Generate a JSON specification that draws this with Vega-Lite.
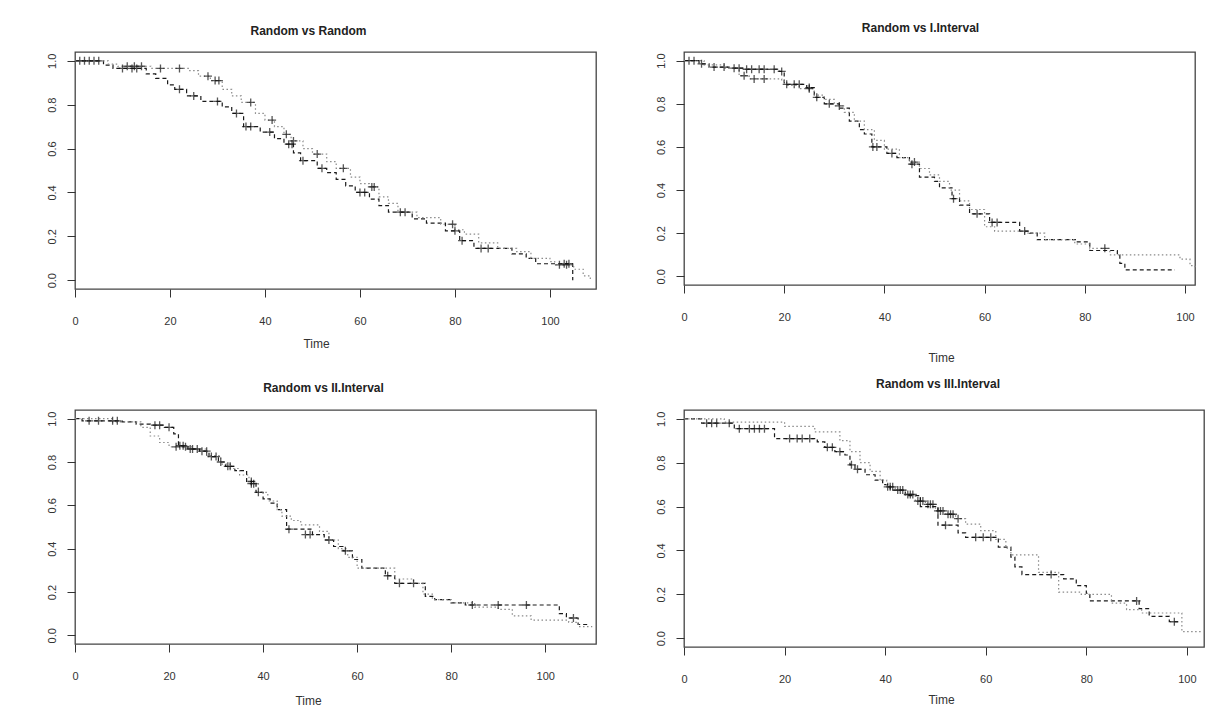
{
"$schema": "https://vega.github.io/schema/vega-lite/v6.json",
"background": "white",
"padding": {"left": 45, "top": 21, "right": 20, "bottom": 10},
"config": {
 "font": "Liberation Sans",
 "view": {"stroke": "#444", "strokeWidth": 1.3},
 "axis": {"grid": false, "domain": false, "tickColor": "#333", "tickSize": 8, "labelFont": "Liberation Sans", "labelFontSize": 11, "labelColor": "#333", "titleFont": "Liberation Sans", "titleFontSize": 12, "titleFontWeight": "normal", "titleColor": "#333"},
 "axisX": {"labelPadding": 18, "labelFlush": false},
 "axisY": {"labelAngle": -90, "labelAlign": "center", "labelBaseline": "bottom", "labelPadding": 10, "format": ".1f", "title": null, "labelFlush": false},
 "title": {"fontSize": 12, "fontWeight": "bold", "color": "#222", "font": "Liberation Sans"}
},
"datasets": {
"curves": [
{"panel":"p1","group":"A","time":0,"surv":1},{"panel":"p1","group":"A","time":6,"surv":0.98},{"panel":"p1","group":"A","time":8,"surv":0.965},{"panel":"p1","group":"A","time":15,"surv":0.94},{"panel":"p1","group":"A","time":17,"surv":0.92},{"panel":"p1","group":"A","time":19.5,"surv":0.89},{"panel":"p1","group":"A","time":21,"surv":0.87},{"panel":"p1","group":"A","time":23.5,"surv":0.84},{"panel":"p1","group":"A","time":26.5,"surv":0.815},{"panel":"p1","group":"A","time":31,"surv":0.79},{"panel":"p1","group":"A","time":33,"surv":0.76},{"panel":"p1","group":"A","time":35.5,"surv":0.7},{"panel":"p1","group":"A","time":39,"surv":0.675},{"panel":"p1","group":"A","time":42,"surv":0.645},{"panel":"p1","group":"A","time":44,"surv":0.62},{"panel":"p1","group":"A","time":46,"surv":0.58},{"panel":"p1","group":"A","time":47.5,"surv":0.545},{"panel":"p1","group":"A","time":51,"surv":0.51},{"panel":"p1","group":"A","time":53,"surv":0.49},{"panel":"p1","group":"A","time":55,"surv":0.46},{"panel":"p1","group":"A","time":57,"surv":0.43},{"panel":"p1","group":"A","time":59,"surv":0.4},{"panel":"p1","group":"A","time":62,"surv":0.37},{"panel":"p1","group":"A","time":64,"surv":0.34},{"panel":"p1","group":"A","time":66,"surv":0.31},{"panel":"p1","group":"A","time":71,"surv":0.28},{"panel":"p1","group":"A","time":74,"surv":0.26},{"panel":"p1","group":"A","time":78,"surv":0.225},{"panel":"p1","group":"A","time":81,"surv":0.18},{"panel":"p1","group":"A","time":84,"surv":0.145},{"panel":"p1","group":"A","time":92,"surv":0.12},{"panel":"p1","group":"A","time":95,"surv":0.1},{"panel":"p1","group":"A","time":97,"surv":0.075},{"panel":"p1","group":"A","time":104.8,"surv":0},
{"panel":"p1","group":"B","time":0,"surv":1},{"panel":"p1","group":"B","time":7,"surv":0.985},{"panel":"p1","group":"B","time":9,"surv":0.975},{"panel":"p1","group":"B","time":16,"surv":0.965},{"panel":"p1","group":"B","time":24,"surv":0.955},{"panel":"p1","group":"B","time":26,"surv":0.93},{"panel":"p1","group":"B","time":28.5,"surv":0.91},{"panel":"p1","group":"B","time":31,"surv":0.87},{"panel":"p1","group":"B","time":33,"surv":0.84},{"panel":"p1","group":"B","time":35,"surv":0.81},{"panel":"p1","group":"B","time":38,"surv":0.76},{"panel":"p1","group":"B","time":40,"surv":0.73},{"panel":"p1","group":"B","time":42,"surv":0.7},{"panel":"p1","group":"B","time":44,"surv":0.665},{"panel":"p1","group":"B","time":45.5,"surv":0.635},{"panel":"p1","group":"B","time":48,"surv":0.6},{"panel":"p1","group":"B","time":50,"surv":0.575},{"panel":"p1","group":"B","time":53,"surv":0.54},{"panel":"p1","group":"B","time":55,"surv":0.51},{"panel":"p1","group":"B","time":58,"surv":0.47},{"panel":"p1","group":"B","time":60,"surv":0.44},{"panel":"p1","group":"B","time":62,"surv":0.425},{"panel":"p1","group":"B","time":64,"surv":0.38},{"panel":"p1","group":"B","time":66,"surv":0.35},{"panel":"p1","group":"B","time":68,"surv":0.31},{"panel":"p1","group":"B","time":72,"surv":0.285},{"panel":"p1","group":"B","time":77,"surv":0.255},{"panel":"p1","group":"B","time":80,"surv":0.23},{"panel":"p1","group":"B","time":82,"surv":0.21},{"panel":"p1","group":"B","time":85,"surv":0.17},{"panel":"p1","group":"B","time":89,"surv":0.145},{"panel":"p1","group":"B","time":93,"surv":0.13},{"panel":"p1","group":"B","time":96,"surv":0.1},{"panel":"p1","group":"B","time":100,"surv":0.085},{"panel":"p1","group":"B","time":101,"surv":0.07},{"panel":"p1","group":"B","time":105,"surv":0.05},{"panel":"p1","group":"B","time":107,"surv":0.02},{"panel":"p1","group":"B","time":108.5,"surv":0},
{"panel":"p2","group":"A","time":0,"surv":1},{"panel":"p2","group":"A","time":3,"surv":0.985},{"panel":"p2","group":"A","time":5,"surv":0.97},{"panel":"p2","group":"A","time":9,"surv":0.965},{"panel":"p2","group":"A","time":12,"surv":0.96},{"panel":"p2","group":"A","time":19,"surv":0.95},{"panel":"p2","group":"A","time":20,"surv":0.89},{"panel":"p2","group":"A","time":24.5,"surv":0.875},{"panel":"p2","group":"A","time":26,"surv":0.83},{"panel":"p2","group":"A","time":28,"surv":0.8},{"panel":"p2","group":"A","time":31,"surv":0.78},{"panel":"p2","group":"A","time":33,"surv":0.72},{"panel":"p2","group":"A","time":35,"surv":0.68},{"panel":"p2","group":"A","time":36,"surv":0.66},{"panel":"p2","group":"A","time":37.5,"surv":0.6},{"panel":"p2","group":"A","time":40.5,"surv":0.57},{"panel":"p2","group":"A","time":42.5,"surv":0.55},{"panel":"p2","group":"A","time":45,"surv":0.52},{"panel":"p2","group":"A","time":47,"surv":0.46},{"panel":"p2","group":"A","time":50,"surv":0.44},{"panel":"p2","group":"A","time":51,"surv":0.41},{"panel":"p2","group":"A","time":53.5,"surv":0.36},{"panel":"p2","group":"A","time":55,"surv":0.33},{"panel":"p2","group":"A","time":57,"surv":0.29},{"panel":"p2","group":"A","time":61,"surv":0.25},{"panel":"p2","group":"A","time":67,"surv":0.21},{"panel":"p2","group":"A","time":69,"surv":0.2},{"panel":"p2","group":"A","time":70.5,"surv":0.17},{"panel":"p2","group":"A","time":78.5,"surv":0.16},{"panel":"p2","group":"A","time":81,"surv":0.12},{"panel":"p2","group":"A","time":86.5,"surv":0.1},{"panel":"p2","group":"A","time":87,"surv":0.06},{"panel":"p2","group":"A","time":88,"surv":0.03},{"panel":"p2","group":"A","time":98,"surv":0.03},
{"panel":"p2","group":"B","time":0,"surv":1},{"panel":"p2","group":"B","time":4,"surv":0.98},{"panel":"p2","group":"B","time":8,"surv":0.965},{"panel":"p2","group":"B","time":11,"surv":0.93},{"panel":"p2","group":"B","time":13,"surv":0.915},{"panel":"p2","group":"B","time":19.5,"surv":0.905},{"panel":"p2","group":"B","time":20.5,"surv":0.885},{"panel":"p2","group":"B","time":23,"surv":0.87},{"panel":"p2","group":"B","time":26,"surv":0.84},{"panel":"p2","group":"B","time":28,"surv":0.82},{"panel":"p2","group":"B","time":30,"surv":0.79},{"panel":"p2","group":"B","time":32,"surv":0.76},{"panel":"p2","group":"B","time":34,"surv":0.72},{"panel":"p2","group":"B","time":36,"surv":0.68},{"panel":"p2","group":"B","time":38,"surv":0.63},{"panel":"p2","group":"B","time":40,"surv":0.59},{"panel":"p2","group":"B","time":43,"surv":0.55},{"panel":"p2","group":"B","time":45,"surv":0.53},{"panel":"p2","group":"B","time":47,"surv":0.5},{"panel":"p2","group":"B","time":49,"surv":0.47},{"panel":"p2","group":"B","time":51,"surv":0.44},{"panel":"p2","group":"B","time":53,"surv":0.4},{"panel":"p2","group":"B","time":55,"surv":0.35},{"panel":"p2","group":"B","time":57,"surv":0.31},{"panel":"p2","group":"B","time":60,"surv":0.23},{"panel":"p2","group":"B","time":62,"surv":0.21},{"panel":"p2","group":"B","time":68,"surv":0.2},{"panel":"p2","group":"B","time":72,"surv":0.17},{"panel":"p2","group":"B","time":78,"surv":0.15},{"panel":"p2","group":"B","time":81,"surv":0.13},{"panel":"p2","group":"B","time":85,"surv":0.1},{"panel":"p2","group":"B","time":99,"surv":0.08},{"panel":"p2","group":"B","time":101,"surv":0.05},{"panel":"p2","group":"B","time":102,"surv":0.04},
{"panel":"p3","group":"A","time":0,"surv":1},{"panel":"p3","group":"A","time":1.5,"surv":0.99},{"panel":"p3","group":"A","time":10,"surv":0.985},{"panel":"p3","group":"A","time":13,"surv":0.975},{"panel":"p3","group":"A","time":16,"surv":0.97},{"panel":"p3","group":"A","time":19,"surv":0.96},{"panel":"p3","group":"A","time":21,"surv":0.93},{"panel":"p3","group":"A","time":22,"surv":0.875},{"panel":"p3","group":"A","time":24,"surv":0.86},{"panel":"p3","group":"A","time":26.5,"surv":0.85},{"panel":"p3","group":"A","time":28.5,"surv":0.825},{"panel":"p3","group":"A","time":30.5,"surv":0.8},{"panel":"p3","group":"A","time":32,"surv":0.78},{"panel":"p3","group":"A","time":34,"surv":0.76},{"panel":"p3","group":"A","time":36.5,"surv":0.71},{"panel":"p3","group":"A","time":38.5,"surv":0.66},{"panel":"p3","group":"A","time":40,"surv":0.63},{"panel":"p3","group":"A","time":41.5,"surv":0.61},{"panel":"p3","group":"A","time":43,"surv":0.58},{"panel":"p3","group":"A","time":45,"surv":0.49},{"panel":"p3","group":"A","time":50.5,"surv":0.465},{"panel":"p3","group":"A","time":53,"surv":0.44},{"panel":"p3","group":"A","time":55,"surv":0.41},{"panel":"p3","group":"A","time":57,"surv":0.39},{"panel":"p3","group":"A","time":59,"surv":0.35},{"panel":"p3","group":"A","time":61,"surv":0.31},{"panel":"p3","group":"A","time":66,"surv":0.275},{"panel":"p3","group":"A","time":68,"surv":0.24},{"panel":"p3","group":"A","time":74.5,"surv":0.18},{"panel":"p3","group":"A","time":76.5,"surv":0.165},{"panel":"p3","group":"A","time":80,"surv":0.15},{"panel":"p3","group":"A","time":83,"surv":0.14},{"panel":"p3","group":"A","time":103,"surv":0.1},{"panel":"p3","group":"A","time":104.5,"surv":0.08},{"panel":"p3","group":"A","time":107,"surv":0.05},{"panel":"p3","group":"A","time":109,"surv":0.05},
{"panel":"p3","group":"B","time":0,"surv":1},{"panel":"p3","group":"B","time":8,"surv":0.985},{"panel":"p3","group":"B","time":14,"surv":0.96},{"panel":"p3","group":"B","time":16,"surv":0.92},{"panel":"p3","group":"B","time":18,"surv":0.89},{"panel":"p3","group":"B","time":20,"surv":0.87},{"panel":"p3","group":"B","time":25,"surv":0.86},{"panel":"p3","group":"B","time":28,"surv":0.83},{"panel":"p3","group":"B","time":31,"surv":0.79},{"panel":"p3","group":"B","time":33,"surv":0.77},{"panel":"p3","group":"B","time":35,"surv":0.74},{"panel":"p3","group":"B","time":37,"surv":0.7},{"panel":"p3","group":"B","time":39,"surv":0.66},{"panel":"p3","group":"B","time":41,"surv":0.62},{"panel":"p3","group":"B","time":43,"surv":0.58},{"panel":"p3","group":"B","time":44,"surv":0.55},{"panel":"p3","group":"B","time":46,"surv":0.53},{"panel":"p3","group":"B","time":48,"surv":0.51},{"panel":"p3","group":"B","time":52,"surv":0.48},{"panel":"p3","group":"B","time":54,"surv":0.44},{"panel":"p3","group":"B","time":56,"surv":0.4},{"panel":"p3","group":"B","time":58,"surv":0.36},{"panel":"p3","group":"B","time":60,"surv":0.31},{"panel":"p3","group":"B","time":68,"surv":0.26},{"panel":"p3","group":"B","time":72,"surv":0.24},{"panel":"p3","group":"B","time":74,"surv":0.19},{"panel":"p3","group":"B","time":76,"surv":0.165},{"panel":"p3","group":"B","time":80,"surv":0.15},{"panel":"p3","group":"B","time":85,"surv":0.13},{"panel":"p3","group":"B","time":90,"surv":0.12},{"panel":"p3","group":"B","time":93,"surv":0.09},{"panel":"p3","group":"B","time":97,"surv":0.07},{"panel":"p3","group":"B","time":105,"surv":0.06},{"panel":"p3","group":"B","time":107,"surv":0.04},{"panel":"p3","group":"B","time":110,"surv":0.04},
{"panel":"p4","group":"A","time":0,"surv":1},{"panel":"p4","group":"A","time":3.5,"surv":0.98},{"panel":"p4","group":"A","time":10,"surv":0.955},{"panel":"p4","group":"A","time":18,"surv":0.91},{"panel":"p4","group":"A","time":26.5,"surv":0.895},{"panel":"p4","group":"A","time":28,"surv":0.87},{"panel":"p4","group":"A","time":30,"surv":0.85},{"panel":"p4","group":"A","time":32,"surv":0.835},{"panel":"p4","group":"A","time":33,"surv":0.79},{"panel":"p4","group":"A","time":34,"surv":0.77},{"panel":"p4","group":"A","time":36,"surv":0.745},{"panel":"p4","group":"A","time":38,"surv":0.72},{"panel":"p4","group":"A","time":39.5,"surv":0.7},{"panel":"p4","group":"A","time":41,"surv":0.675},{"panel":"p4","group":"A","time":44,"surv":0.65},{"panel":"p4","group":"A","time":47,"surv":0.6},{"panel":"p4","group":"A","time":50.5,"surv":0.515},{"panel":"p4","group":"A","time":54.5,"surv":0.48},{"panel":"p4","group":"A","time":56,"surv":0.46},{"panel":"p4","group":"A","time":62.5,"surv":0.415},{"panel":"p4","group":"A","time":65,"surv":0.37},{"panel":"p4","group":"A","time":65.8,"surv":0.325},{"panel":"p4","group":"A","time":67.2,"surv":0.29},{"panel":"p4","group":"A","time":75.5,"surv":0.27},{"panel":"p4","group":"A","time":78,"surv":0.24},{"panel":"p4","group":"A","time":80,"surv":0.205},{"panel":"p4","group":"A","time":80.7,"surv":0.17},{"panel":"p4","group":"A","time":90.5,"surv":0.135},{"panel":"p4","group":"A","time":92.5,"surv":0.1},{"panel":"p4","group":"A","time":96.5,"surv":0.075},{"panel":"p4","group":"A","time":98.5,"surv":0.075},
{"panel":"p4","group":"B","time":0,"surv":1},{"panel":"p4","group":"B","time":8,"surv":0.985},{"panel":"p4","group":"B","time":20,"surv":0.965},{"panel":"p4","group":"B","time":26,"surv":0.94},{"panel":"p4","group":"B","time":31,"surv":0.9},{"panel":"p4","group":"B","time":33,"surv":0.85},{"panel":"p4","group":"B","time":35,"surv":0.8},{"panel":"p4","group":"B","time":37,"surv":0.76},{"panel":"p4","group":"B","time":39,"surv":0.72},{"panel":"p4","group":"B","time":40.3,"surv":0.69},{"panel":"p4","group":"B","time":42,"surv":0.675},{"panel":"p4","group":"B","time":44,"surv":0.655},{"panel":"p4","group":"B","time":46,"surv":0.625},{"panel":"p4","group":"B","time":48,"surv":0.61},{"panel":"p4","group":"B","time":50,"surv":0.58},{"panel":"p4","group":"B","time":52,"surv":0.565},{"panel":"p4","group":"B","time":54,"surv":0.545},{"panel":"p4","group":"B","time":56,"surv":0.52},{"panel":"p4","group":"B","time":59,"surv":0.49},{"panel":"p4","group":"B","time":62,"surv":0.45},{"panel":"p4","group":"B","time":64,"surv":0.41},{"panel":"p4","group":"B","time":65,"surv":0.38},{"panel":"p4","group":"B","time":70.5,"surv":0.3},{"panel":"p4","group":"B","time":74.5,"surv":0.21},{"panel":"p4","group":"B","time":79,"surv":0.2},{"panel":"p4","group":"B","time":85,"surv":0.16},{"panel":"p4","group":"B","time":88,"surv":0.13},{"panel":"p4","group":"B","time":91,"surv":0.115},{"panel":"p4","group":"B","time":99,"surv":0.03},{"panel":"p4","group":"B","time":103,"surv":0.03}
],
"censors": [
{"panel":"p1","time":1,"surv":1},{"panel":"p1","time":3,"surv":1},{"panel":"p1","time":5,"surv":1},{"panel":"p1","time":10,"surv":0.965},{"panel":"p1","time":12,"surv":0.965},{"panel":"p1","time":13,"surv":0.965},{"panel":"p1","time":22,"surv":0.87},{"panel":"p1","time":25,"surv":0.84},{"panel":"p1","time":30,"surv":0.815},{"panel":"p1","time":34,"surv":0.76},{"panel":"p1","time":36,"surv":0.7},{"panel":"p1","time":37,"surv":0.7},{"panel":"p1","time":41,"surv":0.675},{"panel":"p1","time":45,"surv":0.62},{"panel":"p1","time":45.7,"surv":0.62},{"panel":"p1","time":48,"surv":0.545},{"panel":"p1","time":52,"surv":0.51},{"panel":"p1","time":60,"surv":0.4},{"panel":"p1","time":61,"surv":0.4},{"panel":"p1","time":68.5,"surv":0.31},{"panel":"p1","time":69.5,"surv":0.31},{"panel":"p1","time":80,"surv":0.225},{"panel":"p1","time":81.5,"surv":0.18},{"panel":"p1","time":85.5,"surv":0.145},{"panel":"p1","time":87,"surv":0.145},{"panel":"p1","time":103,"surv":0.075},{"panel":"p1","time":104,"surv":0.075},
{"panel":"p1","time":2,"surv":1},{"panel":"p1","time":4,"surv":1},{"panel":"p1","time":11,"surv":0.975},{"panel":"p1","time":12.5,"surv":0.975},{"panel":"p1","time":14,"surv":0.975},{"panel":"p1","time":18,"surv":0.965},{"panel":"p1","time":22,"surv":0.965},{"panel":"p1","time":28,"surv":0.93},{"panel":"p1","time":29.5,"surv":0.91},{"panel":"p1","time":30.3,"surv":0.91},{"panel":"p1","time":37,"surv":0.81},{"panel":"p1","time":41.5,"surv":0.73},{"panel":"p1","time":44.5,"surv":0.665},{"panel":"p1","time":46,"surv":0.635},{"panel":"p1","time":51,"surv":0.575},{"panel":"p1","time":56.5,"surv":0.51},{"panel":"p1","time":62.5,"surv":0.425},{"panel":"p1","time":63,"surv":0.425},{"panel":"p1","time":79.5,"surv":0.255},{"panel":"p1","time":102,"surv":0.07},{"panel":"p1","time":103.5,"surv":0.07},
{"panel":"p2","time":1,"surv":1},{"panel":"p2","time":2,"surv":1},{"panel":"p2","time":3.5,"surv":0.985},{"panel":"p2","time":6,"surv":0.97},{"panel":"p2","time":8,"surv":0.97},{"panel":"p2","time":10,"surv":0.965},{"panel":"p2","time":11,"surv":0.965},{"panel":"p2","time":12.5,"surv":0.96},{"panel":"p2","time":13.5,"surv":0.96},{"panel":"p2","time":15,"surv":0.96},{"panel":"p2","time":16,"surv":0.96},{"panel":"p2","time":18,"surv":0.96},{"panel":"p2","time":19.5,"surv":0.95},{"panel":"p2","time":20.5,"surv":0.89},{"panel":"p2","time":22,"surv":0.89},{"panel":"p2","time":23,"surv":0.89},{"panel":"p2","time":25,"surv":0.875},{"panel":"p2","time":26.5,"surv":0.83},{"panel":"p2","time":29,"surv":0.8},{"panel":"p2","time":37.7,"surv":0.6},{"panel":"p2","time":38.5,"surv":0.6},{"panel":"p2","time":41.5,"surv":0.57},{"panel":"p2","time":45.5,"surv":0.52},{"panel":"p2","time":53.8,"surv":0.36},{"panel":"p2","time":58.5,"surv":0.29},{"panel":"p2","time":61.5,"surv":0.25},{"panel":"p2","time":62.5,"surv":0.25},{"panel":"p2","time":68,"surv":0.21},
{"panel":"p2","time":12,"surv":0.93},{"panel":"p2","time":14,"surv":0.915},{"panel":"p2","time":16,"surv":0.915},{"panel":"p2","time":25,"surv":0.87},{"panel":"p2","time":31,"surv":0.79},{"panel":"p2","time":46,"surv":0.53},{"panel":"p2","time":84,"surv":0.13},
{"panel":"p3","time":3,"surv":0.99},{"panel":"p3","time":5,"surv":0.99},{"panel":"p3","time":8,"surv":0.99},{"panel":"p3","time":9,"surv":0.99},{"panel":"p3","time":17,"surv":0.97},{"panel":"p3","time":18,"surv":0.97},{"panel":"p3","time":20,"surv":0.96},{"panel":"p3","time":22.3,"surv":0.875},{"panel":"p3","time":23,"surv":0.875},{"panel":"p3","time":24.5,"surv":0.86},{"panel":"p3","time":25,"surv":0.86},{"panel":"p3","time":27,"surv":0.85},{"panel":"p3","time":28,"surv":0.85},{"panel":"p3","time":29,"surv":0.825},{"panel":"p3","time":30,"surv":0.825},{"panel":"p3","time":31,"surv":0.8},{"panel":"p3","time":32.5,"surv":0.78},{"panel":"p3","time":33,"surv":0.78},{"panel":"p3","time":37.5,"surv":0.71},{"panel":"p3","time":39,"surv":0.66},{"panel":"p3","time":45.5,"surv":0.49},{"panel":"p3","time":49,"surv":0.465},{"panel":"p3","time":50,"surv":0.465},{"panel":"p3","time":54,"surv":0.44},{"panel":"p3","time":57.5,"surv":0.39},{"panel":"p3","time":66.5,"surv":0.275},{"panel":"p3","time":69,"surv":0.24},{"panel":"p3","time":72,"surv":0.24},{"panel":"p3","time":84.5,"surv":0.14},{"panel":"p3","time":90,"surv":0.14},{"panel":"p3","time":96,"surv":0.14},{"panel":"p3","time":106,"surv":0.08},
{"panel":"p3","time":21.5,"surv":0.87},{"panel":"p3","time":23.5,"surv":0.87},{"panel":"p3","time":26,"surv":0.86},{"panel":"p3","time":37.5,"surv":0.7},{"panel":"p3","time":38,"surv":0.7},
{"panel":"p4","time":4.5,"surv":0.98},{"panel":"p4","time":5.5,"surv":0.98},{"panel":"p4","time":6.5,"surv":0.98},{"panel":"p4","time":9,"surv":0.98},{"panel":"p4","time":11,"surv":0.955},{"panel":"p4","time":13,"surv":0.955},{"panel":"p4","time":14,"surv":0.955},{"panel":"p4","time":15,"surv":0.955},{"panel":"p4","time":16,"surv":0.955},{"panel":"p4","time":21,"surv":0.91},{"panel":"p4","time":22.5,"surv":0.91},{"panel":"p4","time":23.5,"surv":0.91},{"panel":"p4","time":25,"surv":0.91},{"panel":"p4","time":28.5,"surv":0.87},{"panel":"p4","time":29.5,"surv":0.87},{"panel":"p4","time":31,"surv":0.85},{"panel":"p4","time":33.3,"surv":0.79},{"panel":"p4","time":34.5,"surv":0.77},{"panel":"p4","time":52,"surv":0.515},{"panel":"p4","time":58,"surv":0.46},{"panel":"p4","time":59.5,"surv":0.46},{"panel":"p4","time":61,"surv":0.46},{"panel":"p4","time":73,"surv":0.29},{"panel":"p4","time":90,"surv":0.17},{"panel":"p4","time":97.5,"surv":0.075},
{"panel":"p4","time":40.5,"surv":0.69},{"panel":"p4","time":41,"surv":0.69},{"panel":"p4","time":41.5,"surv":0.69},{"panel":"p4","time":42.5,"surv":0.675},{"panel":"p4","time":43,"surv":0.675},{"panel":"p4","time":43.5,"surv":0.675},{"panel":"p4","time":44.5,"surv":0.655},{"panel":"p4","time":45,"surv":0.655},{"panel":"p4","time":45.5,"surv":0.655},{"panel":"p4","time":46.5,"surv":0.625},{"panel":"p4","time":47,"surv":0.625},{"panel":"p4","time":47.5,"surv":0.625},{"panel":"p4","time":48.5,"surv":0.61},{"panel":"p4","time":49,"surv":0.61},{"panel":"p4","time":49.5,"surv":0.61},{"panel":"p4","time":50.5,"surv":0.58},{"panel":"p4","time":51,"surv":0.58},{"panel":"p4","time":51.5,"surv":0.58},{"panel":"p4","time":52.5,"surv":0.565},{"panel":"p4","time":53,"surv":0.565},{"panel":"p4","time":53.5,"surv":0.565},{"panel":"p4","time":54.5,"surv":0.545}
]
},
"columns": 2,
"bounds": "flush",
"spacing": {"row": 121, "column": 88},
"concat": [
{"width": 521, "height": 237, "title": {"text": "Random vs Random", "dx": -27, "offset": 14},
 "layer": [
  {"data": {"name": "curves"}, "transform": [{"filter": "datum.panel === 'p1'"}],
   "mark": {"type": "line", "interpolate": "step-after", "strokeWidth": 1.2},
   "encoding": {
    "x": {"field": "time", "type": "quantitative", "scale": {"domain": [0, 109.7], "nice": false, "zero": false}, "axis": {"values": [0, 20, 40, 60, 80, 100], "title": "Time", "titleX": 241, "titleY": 54, "titleBaseline": "middle"}},
    "y": {"field": "surv", "type": "quantitative", "scale": {"domain": [-0.04, 1.04], "nice": false, "zero": false}, "axis": {"values": [0, 0.2, 0.4, 0.6, 0.8, 1]}},
    "color": {"field": "group", "type": "nominal", "scale": {"domain": ["A", "B"], "range": ["#1a1a1a", "#8a8a8a"]}, "legend": null},
    "strokeDash": {"field": "group", "type": "nominal", "scale": {"domain": ["A", "B"], "range": [[4, 3], [1.5, 2.5]]}, "legend": null}}},
  {"data": {"name": "censors"}, "transform": [{"filter": "datum.panel === 'p1'"}],
   "mark": {"type": "point", "shape": "M-1,0H1M0,-1V1", "filled": false, "stroke": "#111", "strokeWidth": 1.3, "size": 64},
   "encoding": {"x": {"field": "time", "type": "quantitative"}, "y": {"field": "surv", "type": "quantitative"}}}
 ]},
{"width": 511, "height": 233, "title": {"text": "Random vs I.Interval", "dx": -19, "offset": 17},
 "layer": [
  {"data": {"name": "curves"}, "transform": [{"filter": "datum.panel === 'p2'"}],
   "mark": {"type": "line", "interpolate": "step-after", "strokeWidth": 1.2},
   "encoding": {
    "x": {"field": "time", "type": "quantitative", "scale": {"domain": [0, 102], "nice": false, "zero": false}, "axis": {"values": [0, 20, 40, 60, 80, 100], "title": "Time", "titleX": 257, "titleY": 72, "titleBaseline": "middle"}},
    "y": {"field": "surv", "type": "quantitative", "scale": {"domain": [-0.04, 1.04], "nice": false, "zero": false}, "axis": {"values": [0, 0.2, 0.4, 0.6, 0.8, 1]}},
    "color": {"field": "group", "type": "nominal", "scale": {"domain": ["A", "B"], "range": ["#1a1a1a", "#8a8a8a"]}, "legend": null},
    "strokeDash": {"field": "group", "type": "nominal", "scale": {"domain": ["A", "B"], "range": [[4, 3], [1.5, 2.5]]}, "legend": null}}},
  {"data": {"name": "censors"}, "transform": [{"filter": "datum.panel === 'p2'"}],
   "mark": {"type": "point", "shape": "M-1,0H1M0,-1V1", "filled": false, "stroke": "#111", "strokeWidth": 1.3, "size": 64},
   "encoding": {"x": {"field": "time", "type": "quantitative"}, "y": {"field": "surv", "type": "quantitative"}}}
 ]},
{"width": 521, "height": 234, "title": {"text": "Random vs II.Interval", "dx": -12, "offset": 15},
 "layer": [
  {"data": {"name": "curves"}, "transform": [{"filter": "datum.panel === 'p3'"}],
   "mark": {"type": "line", "interpolate": "step-after", "strokeWidth": 1.2},
   "encoding": {
    "x": {"field": "time", "type": "quantitative", "scale": {"domain": [0, 110.8], "nice": false, "zero": false}, "axis": {"values": [0, 20, 40, 60, 80, 100], "title": "Time", "titleX": 233, "titleY": 56, "titleBaseline": "middle"}},
    "y": {"field": "surv", "type": "quantitative", "scale": {"domain": [-0.04, 1.04], "nice": false, "zero": false}, "axis": {"values": [0, 0.2, 0.4, 0.6, 0.8, 1]}},
    "color": {"field": "group", "type": "nominal", "scale": {"domain": ["A", "B"], "range": ["#1a1a1a", "#8a8a8a"]}, "legend": null},
    "strokeDash": {"field": "group", "type": "nominal", "scale": {"domain": ["A", "B"], "range": [[4, 3], [1.5, 2.5]]}, "legend": null}}},
  {"data": {"name": "censors"}, "transform": [{"filter": "datum.panel === 'p3'"}],
   "mark": {"type": "point", "shape": "M-1,0H1M0,-1V1", "filled": false, "stroke": "#111", "strokeWidth": 1.3, "size": 64},
   "encoding": {"x": {"field": "time", "type": "quantitative"}, "y": {"field": "surv", "type": "quantitative"}}}
 ]},
{"width": 520, "height": 237, "title": {"text": "Random vs III.Interval", "dx": -6, "offset": 19},
 "layer": [
  {"data": {"name": "curves"}, "transform": [{"filter": "datum.panel === 'p4'"}],
   "mark": {"type": "line", "interpolate": "step-after", "strokeWidth": 1.2},
   "encoding": {
    "x": {"field": "time", "type": "quantitative", "scale": {"domain": [0, 103.4], "nice": false, "zero": false}, "axis": {"values": [0, 20, 40, 60, 80, 100], "title": "Time", "titleX": 257, "titleY": 52, "titleBaseline": "middle"}},
    "y": {"field": "surv", "type": "quantitative", "scale": {"domain": [-0.04, 1.04], "nice": false, "zero": false}, "axis": {"values": [0, 0.2, 0.4, 0.6, 0.8, 1]}},
    "color": {"field": "group", "type": "nominal", "scale": {"domain": ["A", "B"], "range": ["#1a1a1a", "#8a8a8a"]}, "legend": null},
    "strokeDash": {"field": "group", "type": "nominal", "scale": {"domain": ["A", "B"], "range": [[4, 3], [1.5, 2.5]]}, "legend": null}}},
  {"data": {"name": "censors"}, "transform": [{"filter": "datum.panel === 'p4'"}],
   "mark": {"type": "point", "shape": "M-1,0H1M0,-1V1", "filled": false, "stroke": "#111", "strokeWidth": 1.3, "size": 64},
   "encoding": {"x": {"field": "time", "type": "quantitative"}, "y": {"field": "surv", "type": "quantitative"}}}
 ]}
]
}
